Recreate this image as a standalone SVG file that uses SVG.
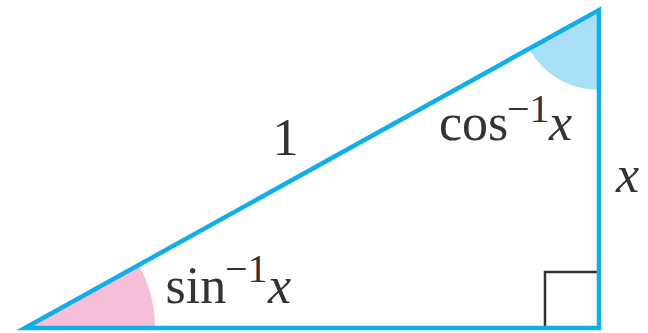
<svg xmlns="http://www.w3.org/2000/svg" width="648" height="333" viewBox="0 0 648 333">
<style>
.t{font-family:"Liberation Serif","Times New Roman",serif;font-size:52px;fill:#333}
.i{font-style:italic}
.sup{font-size:40px}
</style>
<rect width="648" height="333" fill="#fff"/>
<g id="angles">
<path d="M25,328 L138.7,265 A130,130 0 0 1 155,328 Z" fill="#F6BED9"/>
<path d="M599,10 L529,48.8 A80,80 0 0 0 599,90 Z" fill="#A9DFF7"/>
</g>
<g id="right-angle">
<path d="M545,328 V272 H599" fill="none" stroke="#333" stroke-width="2.5"/>
</g>
<g id="triangle">
<polygon points="25,328 599,10 599,328" fill="none" stroke="#12AEEA" stroke-width="4.5" stroke-linejoin="miter" stroke-miterlimit="10"/>
</g>
<g id="labels">
<text class="t" x="285.5" y="155" text-anchor="middle">1</text>
<text class="t" x="439" y="140">cos<tspan class="sup" x="507" y="122">−1</tspan><tspan class="i" x="549" y="140">x</tspan></text>
<text class="t" x="165.5" y="303">sin<tspan class="sup" x="225" y="282">−1</tspan><tspan class="i" x="268" y="303">x</tspan></text>
<text class="t i" x="616" y="192">x</text>
</g>
</svg>
